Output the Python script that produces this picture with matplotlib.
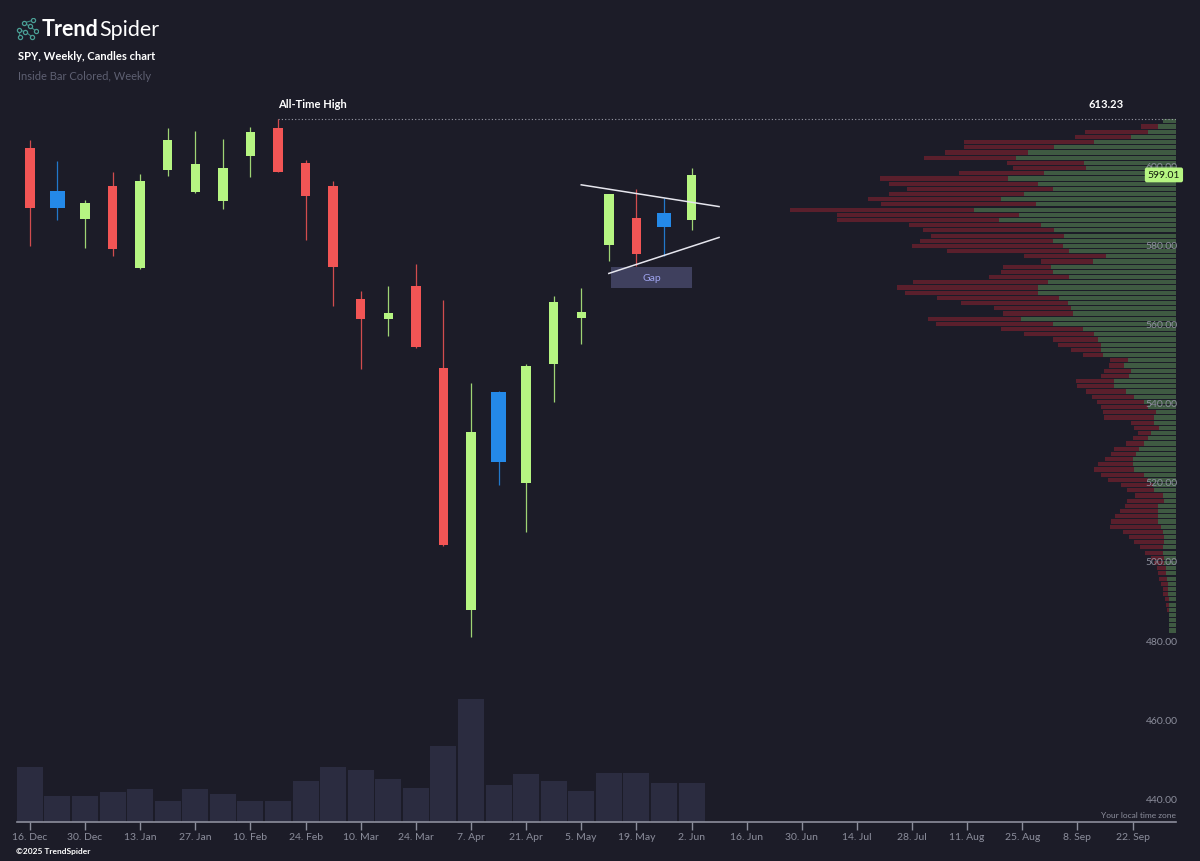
import numpy as np
import pandas as pd
import matplotlib
matplotlib.use("Agg")
import matplotlib.pyplot as plt
import matplotlib.dates as mdates
import matplotlib.transforms as mtransforms

plt.rcParams['font.family'] = ['Lato', 'DejaVu Sans']

# SPY weekly candles
week_start = pd.date_range("2024-12-16", periods=25, freq="7D")
opens = [605.8, 590.6, 587.9, 596.3, 575.4, 600.3, 594.6, 592.5, 603.7, 610.8,
         602.0, 596.1, 567.6, 562.5, 570.8, 550.1, 489.1, 544.2, 521.0, 551.3,
         562.8, 581.3, 588.0, 585.9, 587.6]
highs = [607.9, 602.6, 592.7, 599.8, 599.3, 610.8, 610.1, 608.1, 611.0, 613.23,
         602.9, 597.4, 569.6, 571.0, 576.5, 567.4, 546.3, 544.3, 551.1, 568.4,
         570.4, 594.3, 595.4, 593.1, 600.8]
lows = [581.1, 587.6, 580.6, 578.6, 575.3, 598.7, 594.5, 590.4, 598.5, 599.7,
        582.5, 565.8, 549.9, 558.2, 555.2, 505.3, 482.2, 520.5, 508.7, 541.6,
        556.2, 577.3, 575.9, 578.6, 585.1]
closes = [590.6, 594.9, 591.9, 580.4, 597.4, 607.9, 601.7, 600.8, 609.8, 599.8,
          593.6, 575.8, 562.5, 564.0, 555.5, 505.5, 534.0, 526.4, 550.7, 566.8,
          564.3, 594.2, 579.0, 589.3, 599.01]
# weekly volume, millions of shares (approx.)
volume_m = [479, 226, 226, 261, 290, 185, 290, 246, 185, 185, 357, 479, 452,
            374, 298, 661, 1070, 325, 418, 354, 272, 426, 426, 339, 339]

# volume profile rows from the top (613.23) downwards, buy / sell parts
vp_top = 613.23
vp_row = 1.314
vp_buy = [13, 18, 28, 45, 82, 122, 148, 160, 92, 90,
          132, 168, 138, 123, 152, 175, 140, 202, 157, 177,
          135, 122, 112, 123, 113, 107, 70, 83, 125, 123,
          107, 128, 138, 138, 117, 108, 105, 103, 155, 123,
          93, 82, 78, 75, 75, 73, 48, 52, 45, 47,
          62, 62, 50, 42, 32, 28, 20, 22, 22, 17,
          25, 28, 32, 37, 40, 43, 43, 42, 32, 28,
          23, 22, 13, 12, 18, 18, 18, 18, 15, 13,
          12, 12, 13, 13, 12, 12, 10, 10, 9, 8,
          8, 8, 7, 7, 7, 7, 7, 7, 7]
vp_sell = [0, 17, 63, 56, 130, 90, 83, 92, 77, 73,
           85, 128, 149, 146, 135, 133, 155, 184, 182, 162,
           132, 131, 133, 133, 151, 122, 82, 52, 48, 52,
           80, 135, 141, 133, 122, 107, 77, 70, 93, 117,
           82, 70, 45, 43, 30, 20, 18, 15, 27, 28,
           38, 37, 40, 42, 47, 47, 53, 50, 23, 25,
           13, 15, 18, 25, 25, 28, 35, 40, 43, 40,
           32, 27, 28, 37, 33, 38, 43, 47, 51, 40,
           35, 30, 23, 18, 13, 10, 9, 8, 8, 7,
           5, 5, 4, 3, 2, 0, 0, 0, 0]

price_ticks = [440, 460, 480, 500, 520, 540, 560, 580, 600]
tick_dates = pd.date_range("2024-12-16", "2025-09-22", freq="14D")

# drawings: triangle lines and gap zone
upper_line = (pd.to_datetime(["2025-05-05", "2025-06-09"]), [596.5, 591.0])
lower_line = (pd.to_datetime(["2025-05-12", "2025-06-09"]), [574.1, 583.2])
gap_x = pd.to_datetime(["2025-05-12 12:00", "2025-06-02 06:00"])
gap_y = [570.4, 575.8]

bg = "#1c1c28"
c_up, c_down, c_inside = "#b6f582", "#f25555", "#2489e8"
axis_col = "#8c8e9c"

fig = plt.figure(figsize=(12, 8.62), dpi=100, facecolor=bg)
rect = [17 / 1200, 39 / 862, 1158.5 / 1200, 723 / 862]
ax = fig.add_axes(rect)
ax_vol = ax.twinx()
ax_vp = ax.twiny()
ax.set_zorder(3)
ax_vp.set_zorder(2)
ax_vol.set_zorder(1)
for a in (ax, ax_vol, ax_vp):
    a.patch.set_visible(False)
    for s in a.spines.values():
        s.set_visible(False)

x = mdates.date2num(week_start)
x0 = x[0]
ax.set_xlim(x0 - 3.28, x0 + 290.9)
ax.set_ylim(435.4, 618.2)

o, h, l, c = map(np.asarray, (opens, highs, lows, closes))
inside = np.r_[False, (h[1:] <= h[:-1]) & (l[1:] >= l[:-1])]
colors = np.where(inside, c_inside, np.where(c >= o, c_up, c_down))
widths = np.where(inside, 3.7, 2.4)

# volume
ax_vol.bar(x, volume_m, width=6.6, color="#2b2c40", zorder=1)
ax_vol.set_ylim(0, 723 * 8.7)
ax_vol.set_yticks([])

# volume profile (1 unit ~ 1 px, drawn from the right edge)
width_px = ax.get_position().width * fig.get_figwidth() * fig.dpi
yc = vp_top - (np.arange(len(vp_buy)) + 0.5) * vp_row
ax_vp.barh(yc, vp_buy, left=0, height=vp_row * 0.8, color="#3f5a42")
ax_vp.barh(yc, vp_sell, left=vp_buy, height=vp_row * 0.8, color="#5a1f2c")
ax_vp.set_xlim(width_px, 0)
ax_vp.set_xticks([])

# candles
ax.vlines(x, l, h, colors=colors, linewidth=0.9, alpha=0.85, zorder=3)
ax.bar(x, np.maximum(np.abs(c - o), 0.35), bottom=np.minimum(o, c), width=widths,
       color=colors, zorder=4)

# all-time high
ath_i = int(np.argmax(h))
ath = h[ath_i]
ax.hlines(ath, x[ath_i], ax.get_xlim()[1], colors="#9c9eaa", linewidth=0.8,
          linestyles=(0, (1, 2)), zorder=2)
ax.annotate("All-Time High", (x[ath_i], ath), xytext=(0, 7), textcoords="offset points",
            ha="left", va="bottom", color="white", fontsize=8, fontweight="bold")
trans = mtransforms.blended_transform_factory(ax.transAxes, ax.transData)
ax.annotate(f"{ath:.2f}", (0.955, ath), xycoords=trans, xytext=(0, 7),
            textcoords="offset points", ha="right", va="bottom", color="white",
            fontsize=8, fontweight="bold")

# triangle + gap
for xs, ys in (upper_line, lower_line):
    ax.plot(mdates.date2num(xs), ys, color="#e6e6ee", linewidth=1.1, zorder=5)
gx = mdates.date2num(gap_x)
ax.fill_between(gx, gap_y[0], gap_y[1], color="#3f405e", zorder=2, linewidth=0)
ax.text(gx.mean(), np.mean(gap_y), "Gap", ha="center", va="center", color="#9ea3ee",
        fontsize=7.5, zorder=6)

# price axis labels (inside, right)
for v in price_ticks:
    ax.text(1.002, v, f"{v:.2f}", transform=trans, ha="right", va="bottom",
            color=axis_col, fontsize=7.5, zorder=6)
ax.set_yticks([])
ax.text(1.004, c[-1], f"{c[-1]:.2f}", transform=trans, ha="right", va="center",
        color="#111a0b", fontsize=7.5, zorder=7,
        bbox=dict(boxstyle="round,pad=0.28,rounding_size=0.2", fc=c_up, ec="none"))

# time axis
ax.spines["bottom"].set_visible(True)
ax.spines["bottom"].set_color(axis_col)
ax.spines["bottom"].set_linewidth(1.2)
ax.set_xticks(mdates.date2num(tick_dates))
ax.set_xticklabels([f"{d.day}. {d.strftime('%b')}" for d in tick_dates])
ax.tick_params(axis="x", colors=axis_col, length=6, width=1, pad=1.5, labelsize=7.5)
ax.text(1.0, 0.005, "Your local time zone", transform=ax.transAxes, ha="right",
        va="bottom", color=axis_col, fontsize=6)

# header
t1 = fig.text(42 / 1200, 1 - 30 / 862, "Trend", color="white", fontsize=15.5,
              fontweight="bold", va="center", ha="left")
fig.canvas.draw()
bb = t1.get_window_extent()
fig.text(bb.x1 / 1200 + 0.0005, 1 - 30 / 862, "Spider", color="white", fontsize=15.5,
         va="center", ha="left")
fig.text(18 / 1200, 1 - 57 / 862, "SPY, Weekly, Candles chart", color="white",
         fontsize=8, fontweight="bold", va="center")
fig.text(18 / 1200, 1 - 77 / 862, "Inside Bar Colored, Weekly", color="#5e6072",
         fontsize=8, va="center")
fig.text(16 / 1200, 1 - 852 / 862, "\u00a92025 TrendSpider", color="white",
         fontsize=6, fontweight="bold", va="center")

# logo mark
lg = fig.add_axes([16 / 1200, 1 - 41 / 862, 22 / 1200, 22 / 862])
lg.set_xlim(0, 1)
lg.set_ylim(0, 1)
lg.axis("off")
nodes = np.array([[0.12, 0.45], [0.38, 0.78], [0.42, 0.38], [0.62, 0.62],
                  [0.72, 0.15], [0.9, 0.42], [0.78, 0.9], [0.2, 0.12]])
for i, j in [(0, 2), (1, 3), (2, 4), (3, 5), (1, 6), (0, 7)]:
    lg.plot(nodes[[i, j], 0], nodes[[i, j], 1], color="#3e8c84", linewidth=0.8)
lg.scatter(nodes[:, 0], nodes[:, 1], s=9, facecolor=bg, edgecolor="#4a9f95",
           linewidth=0.9, zorder=3)

fig.savefig("out.png", dpi=100, facecolor=bg)
